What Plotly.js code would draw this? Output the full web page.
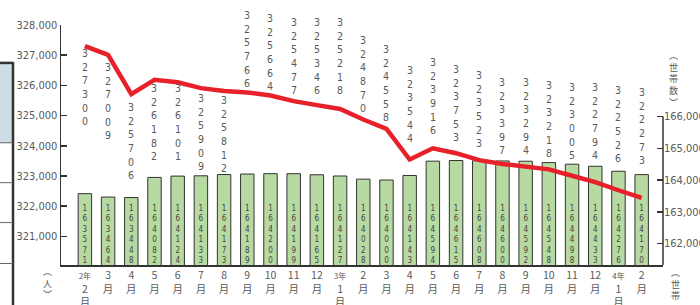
<!DOCTYPE html>
<html>
<head>
<meta charset="utf-8">
<script src="https://cdn.plot.ly/plotly-3.0.1.min.js"></script>
<style>
  html, body { margin: 0; padding: 0; background: #fff; }
  #chart { width: 700px; height: 305px; }
</style>
</head>
<body>
<div id="chart"></div>
<script>
// ---- data ----
const yearLabels = ["2年", "", "", "", "", "", "", "", "", "", "", "3年", "", "", "", "", "", "", "", "", "", "", "", "4年", ""];
const monthLabels = ["2", "3", "4", "5", "6", "7", "8", "9", "10", "11", "12", "1", "2", "3", "4", "5", "6", "7", "8", "9", "10", "11", "12", "1", "2"];
const totals = [327300, 327009, 325706, 326182, 326101, 325909, 325812, 325766, 325664, 325477, 325346, 325218, 324870, 324558, 323544, 323916, 323753, 323523, 323397, 323294, 323218, 323005, 322794, 322526, 322273];
const households = [163571, 163464, 163448, 164082, 164124, 164133, 164173, 164189, 164200, 164199, 164165, 164127, 164028, 164000, 164143, 164594, 164615, 164608, 164600, 164592, 164548, 164498, 164433, 164276, 164170];

// ---- label layout (style only: which side of the line, extra pixel shift) ----
const labelsBelowCount = 7;
const labelShift = [1, -4, -5, 0, 2, -2, -1, 1, 2, 3, 7, 11, 3, 4, 14, 10, 8, 9, 6, 9, 8, 13, 19, 24, 30];

// ---- axis ranges ----
const hhRange = [161325, 168880];
const totRange = [320050, 328000];

// ---- derived ----
const idx = monthLabels.map((_, i) => i);
const tickText = monthLabels.map((m, i) => {
  const y = yearLabels[i];
  const parts = [];
  if (y) parts.push("<span style='font-size:8px'>" + y + "</span>");
  parts.push(m); parts.push("月");
  return parts.join("<br>");
});
const stack = v => String(v).split("").join("<br>");

const grey = "#5a5a5a";
const narrow = "'Liberation Sans Narrow', 'DejaVu Sans Condensed', 'Roboto Condensed', sans-serif";
const jp = "'Noto Sans CJK JP', sans-serif";

// plot area in px for placing decorative items
const L = 61, T = 25, W = 602, H = 240.5;
const px = x => (x - L) / W;
const py = y => (T + H - y) / H;

const barTrace = {
  type: "bar", name: "世帯数", x: idx, y: households, yaxis: "y",
  width: 0.58,
  marker: { color: "#b7d9a2", line: { color: "#333", width: 1 } },
  hoverinfo: "skip"
};
const barLabelTrace = {
  type: "scatter", mode: "text", x: idx, y: households.map(() => hhRange[0]), yaxis: "y",
  text: households.map(stack), textposition: "top center", cliponaxis: false,
  textfont: { family: narrow, size: 8, color: "#444" },
  showlegend: false, hoverinfo: "skip"
};
const lineTrace = {
  type: "scatter", mode: "lines", name: "総数", x: idx, y: totals, yaxis: "y2",
  line: { color: "#e8202a", width: 4.5 }, cliponaxis: false,
  hoverinfo: "skip"
};

const totalLabels = totals.map((v, i) => {
  const below = i < labelsBelowCount;
  return {
    text: stack(v), xref: "x", yref: "y2", x: idx[i], y: v,
    xanchor: "center", yanchor: below ? "top" : "bottom", yshift: labelShift[i],
    showarrow: false, borderpad: 1,
    font: { family: narrow, size: 10.5, color: grey }
  };
});

const shapes = [
  // fragment of neighbouring table at the left edge
  { type: "rect", xref: "paper", yref: "paper", x0: px(0), x1: px(13), y0: py(143), y1: py(63),
    fillcolor: "#cddde6", opacity: 1, line: { width: 0 }, layer: "below" },
  { type: "line", xref: "paper", yref: "paper", x0: px(-2), x1: px(13), y0: py(63), y1: py(63), line: { color: "#333", width: 2.5 } },
  { type: "line", xref: "paper", yref: "paper", x0: px(13), x1: px(13), y0: py(62), y1: py(310), line: { color: "#333", width: 2.5 } },
  ...[143, 183, 223, 264].map(y => ({ type: "line", xref: "paper", yref: "paper", x0: px(-2), x1: px(13), y0: py(y), y1: py(y), line: { color: "#666", width: 1 } })),
  // right axis line (only from 166,000 downward)
  { type: "line", xref: "paper", yref: "y", x0: 1, x1: 1, y0: hhRange[0], y1: 166000, line: { color: "#333", width: 1.5 } }
];

const vnote = (text, x, y) => ({
  text: text, xref: "paper", yref: "paper", x: px(x), y: py(y),
  xanchor: "center", yanchor: "top", showarrow: false, borderpad: 0,
  font: { family: jp, size: 9, color: grey }
});
const annotations = [
  ...totalLabels,
  vnote("︵<br>人<br>︶", 47, 264),
  vnote("︵<br>世<br>帯<br>数<br>︶", 673, 48),
  vnote("︵<br>世<br>帯", 675, 265)
];

const layout = {
  width: 700, height: 305,
  margin: { l: L, r: 700 - L - W, t: T, b: 305 - T - H, pad: 0 },
  paper_bgcolor: "#fff", plot_bgcolor: "rgba(0,0,0,0)",
  showlegend: true,
  legend: {
    orientation: "h", xref: "container", yref: "container", x: 0.73, y: 1.03,
    xanchor: "left", yanchor: "top", traceorder: "reversed",
    font: { family: jp, size: 15, color: grey }, itemgap: 10, bgcolor: "rgba(0,0,0,0)"
  },
  xaxis: {
    range: [-1.03, 24.92], tickvals: idx, ticktext: tickText, tickangle: 0,
    showline: true, linecolor: "#333", linewidth: 1.5, ticks: "", showgrid: false, zeroline: false,
    tickfont: { family: jp, size: 10.5, color: grey }
  },
  yaxis: {
    side: "right", range: hhRange,
    tickvals: [162000, 163000, 164000, 165000, 166000], tickformat: ",",
    ticks: "inside", ticklen: 6, tickcolor: "#333", tickwidth: 1.5,
    showline: false, showgrid: false, zeroline: false,
    tickfont: { family: narrow, size: 11, color: grey }
  },
  yaxis2: {
    side: "left", overlaying: "y", range: totRange, dtick: 1000, tickformat: ",",
    ticks: "inside", ticklen: 6, tickcolor: "#333", tickwidth: 1.5,
    showline: true, linecolor: "#333", linewidth: 1.5, showgrid: false, zeroline: false,
    tickfont: { family: narrow, size: 11, color: grey }
  },
  shapes: shapes,
  annotations: annotations
};

Plotly.newPlot("chart", [barTrace, barLabelTrace, lineTrace], layout, { displayModeBar: false, staticPlot: true });
</script>
</body>
</html>
